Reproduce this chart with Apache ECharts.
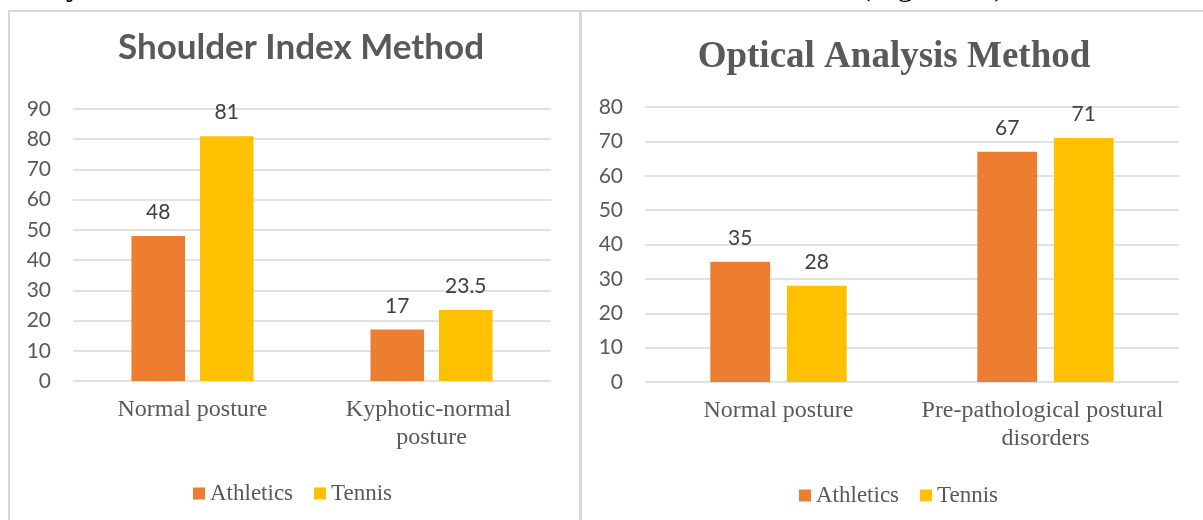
<!DOCTYPE html>
<html>
<head>
<meta charset="utf-8">
<script src="https://cdn.jsdelivr.net/npm/echarts@6/dist/echarts.min.js"></script>
<style>
html,body{margin:0;padding:0;background:#fff;}
#chart{width:1203px;height:520px;}
</style>
</head>
<body>
<div id="chart"></div>
<script>
// ---- data ----
const seriesNames = ['Athletics', 'Tennis'];
const leftTitle = 'Shoulder Index Method';
const leftCategories = ['Normal posture', 'Kyphotic-normal posture'];
const leftAthletics = [48, 17];
const leftTennis = [81, 23.5];
const leftYTicks = { min: 0, max: 90, interval: 10 };

const rightTitle = 'Optical Analysis Method';
const rightCategories = ['Normal posture', 'Pre-pathological postural disorders'];
const rightAthletics = [35, 67];
const rightTennis = [28, 71];
const rightYTicks = { min: 0, max: 80, interval: 10 };

const colors = ['#ED7D31', '#FFC000'];

// ---- chart ----
const chart = echarts.init(document.getElementById('chart'), null, { renderer: 'canvas' });
const gray = '#595959';
const sansFont = 'Lato';
const serifFont = 'Liberation Serif';

function yAxis(idx, t) {
  return {
    type: 'value', gridIndex: idx, min: t.min, max: t.max, interval: t.interval,
    axisLine: { show: false }, axisTick: { show: false },
    axisLabel: { color: gray, fontFamily: sansFont, fontSize: 21, margin: 22 },
    splitLine: { lineStyle: { color: '#D9D9D9', width: 1.5 } }
  };
}
function xAxis(idx, cats, w) {
  return {
    type: 'category', gridIndex: idx, data: cats,
    axisLine: { show: false }, axisTick: { show: false },
    axisLabel: {
      interval: 0, color: gray, fontFamily: serifFont, fontSize: 24,
      lineHeight: 28, margin: 15, width: w, overflow: 'break'
    }
  };
}
function bar(name, xi, data, color) {
  return {
    name: name, type: 'bar', xAxisIndex: xi, yAxisIndex: xi, data: data,
    barWidth: '22.4%', barGap: '28%',
    itemStyle: { color: color },
    label: {
      show: true, position: 'top', distance: 13,
      color: '#404040', fontFamily: sansFont, fontSize: 21
    }
  };
}

const option = {
  backgroundColor: '#ffffff',
  animation: false,
  color: colors,
  title: [
    { text: leftTitle, left: 296, top: 25, textAlign: 'center',
      textStyle: { color: gray, fontFamily: sansFont, fontWeight: 'bold', fontSize: 35 } },
    { text: rightTitle, left: 889, top: 34, textAlign: 'center',
      textStyle: { color: gray, fontFamily: serifFont, fontWeight: 'bold', fontSize: 37 } }
  ],
  legend: [
    { data: seriesNames, left: 188, top: 477, itemWidth: 12, itemHeight: 12, itemGap: 21,
      icon: 'rect', textStyle: { color: gray, fontFamily: serifFont, fontSize: 23 } },
    { data: seriesNames, left: 794, top: 479, itemWidth: 12, itemHeight: 12, itemGap: 21,
      icon: 'rect', textStyle: { color: gray, fontFamily: serifFont, fontSize: 23 } }
  ],
  grid: [
    { left: 73, right: 652, top: 109, bottom: 139 },
    { left: 645, right: 24, top: 107, bottom: 138 }
  ],
  xAxis: [xAxis(0, leftCategories, 190), xAxis(1, rightCategories, 260)],
  yAxis: [yAxis(0, leftYTicks), yAxis(1, rightYTicks)],
  series: [
    bar(seriesNames[0], 0, leftAthletics, colors[0]),
    bar(seriesNames[1], 0, leftTennis, colors[1]),
    bar(seriesNames[0], 1, rightAthletics, colors[0]),
    bar(seriesNames[1], 1, rightTennis, colors[1])
  ],
  graphic: [
    { type: 'line', shape: { x1: 8, y1: 11, x2: 1203, y2: 11 }, style: { stroke: '#D9D9D9', lineWidth: 2 }, silent: true },
    { type: 'line', shape: { x1: 9, y1: 11, x2: 9, y2: 520 }, style: { stroke: '#D9D9D9', lineWidth: 2 }, silent: true },
    { type: 'line', shape: { x1: 580.5, y1: 11, x2: 580.5, y2: 520 }, style: { stroke: '#D9D9D9', lineWidth: 3 }, silent: true },
    { type: 'text', left: 66, top: -29, style: { text: 'y', fill: '#000', font: '32px "Liberation Serif"' }, silent: true },
    { type: 'text', left: 860, top: -29, style: { text: '(Figure 10)', fill: '#000', font: '32px "Liberation Serif"' }, silent: true }
  ]
};
chart.setOption(option);
</script>
</body>
</html>
